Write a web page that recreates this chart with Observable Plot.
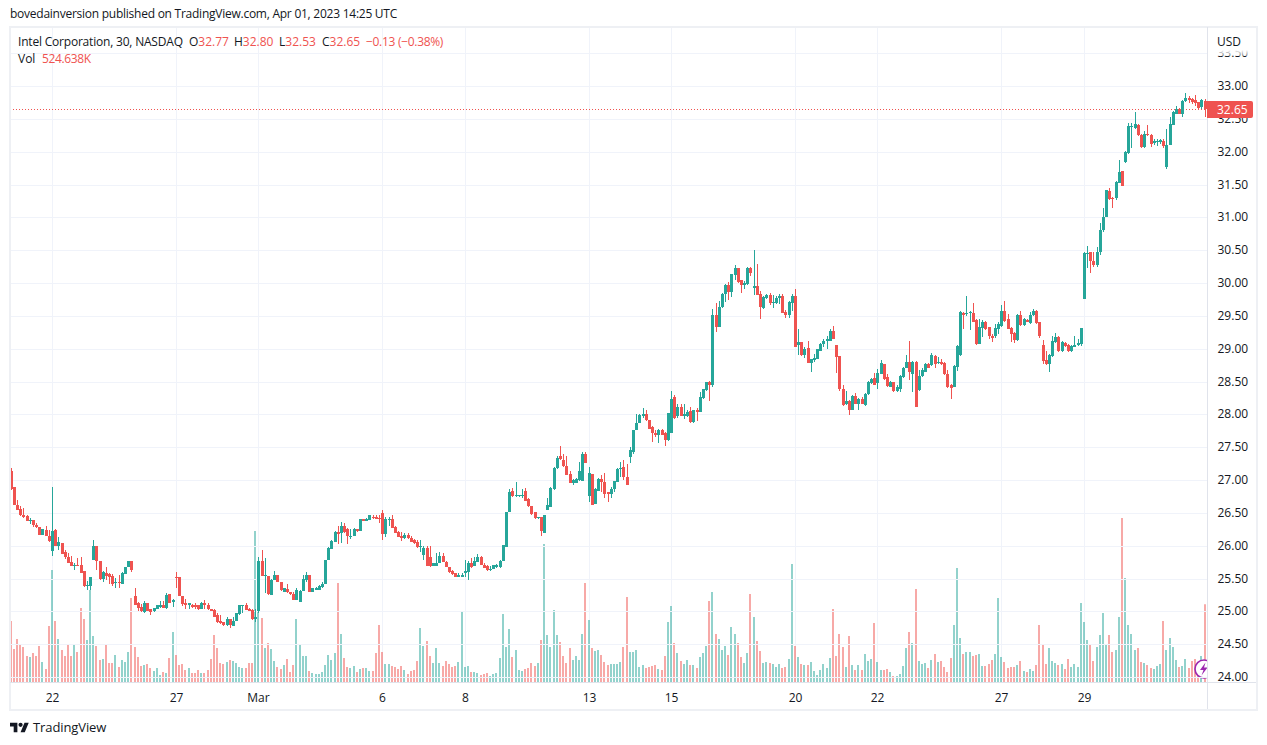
<!DOCTYPE html>
<html><head><meta charset="utf-8">
<script src="https://cdn.jsdelivr.net/npm/d3@7"></script>
<script src="https://cdn.jsdelivr.net/npm/@observablehq/plot@0.6"></script>
<style>
html,body{margin:0;padding:0;background:#fff;}
#page{position:relative;width:1267px;height:745px;overflow:hidden;font-family:"Open Sans",sans-serif;color:#131722;font-size:12px;}
#page svg{position:absolute;left:0;top:0;background:transparent;}
.t{position:absolute;white-space:nowrap;line-height:14px;}
.r{color:#ef5350;}
.box{position:absolute;}
</style></head><body><div id="page"></div>
<script>
// 30-minute candles, 13 per session, Feb 21 - Mar 31 2023
const opens=[
27.13,26.89,26.62,26.56,26.47,26.45,26.37,26.39,26.32,26.28,26.17,26.24,26.14,
25.92,26.24,25.99,26.04,25.91,25.83,25.75,25.69,25.71,25.70,25.61,25.38,25.38,
25.78,25.99,25.76,25.49,25.58,25.57,25.54,25.43,25.45,25.42,25.57,25.67,25.76,
25.24,25.12,25.06,24.99,25.12,25.04,25.00,25.03,25.06,25.09,25.05,25.27,25.14,
25.53,25.53,25.23,25.13,25.10,25.10,25.09,25.09,25.03,25.13,25.10,25.03,25.02,
24.95,24.85,24.83,24.79,24.89,24.78,24.85,24.96,25.08,25.10,25.03,25.02,24.88,
25.01,25.77,25.54,25.54,25.25,25.47,25.56,25.45,25.30,25.34,25.29,25.27,25.17,
25.14,25.31,25.47,25.56,25.29,25.33,25.33,25.37,25.41,25.78,25.95,26.06,26.21,
26.20,26.30,26.25,26.13,26.14,26.25,26.23,26.40,26.37,26.39,26.44,26.43,26.42,
26.49,26.18,26.39,26.41,26.28,26.21,26.15,26.11,26.17,26.12,26.08,26.05,25.98,
25.86,25.97,25.83,25.69,25.69,25.73,25.85,25.75,25.67,25.62,25.58,25.53,25.53,
25.58,25.60,25.73,25.69,25.75,25.82,25.71,25.69,25.63,25.64,25.68,25.68,25.76,
25.98,26.51,26.84,26.75,26.75,26.75,26.84,26.71,26.60,26.51,26.42,26.44,26.20,
26.55,26.59,26.86,27.18,27.36,27.31,27.22,27.09,26.96,26.96,27.00,26.99,27.40,
26.75,27.09,26.63,26.84,27.01,26.97,26.82,26.78,26.86,26.97,27.17,27.20,27.04,
27.35,27.42,27.76,27.87,27.98,28.00,27.91,27.81,27.72,27.68,27.76,27.72,27.61,
27.72,28.27,27.97,28.11,27.98,27.98,28.05,27.88,28.07,28.04,28.25,28.37,28.49,
28.44,29.51,29.33,29.63,29.84,29.97,29.87,30.12,30.23,30.04,29.97,29.98,30.23,
29.93,29.95,29.83,29.62,29.77,29.82,29.70,29.70,29.77,29.80,29.56,29.51,29.70,
29.80,29.05,29.10,28.91,29.01,28.78,28.83,28.85,28.97,29.07,29.11,29.12,29.27,
29.05,28.89,28.39,28.15,28.20,28.07,28.28,28.15,28.24,28.14,28.31,28.47,28.56,
28.47,28.62,28.77,28.57,28.42,28.49,28.35,28.38,28.57,28.70,28.79,28.62,28.79,
28.37,28.58,28.65,28.76,28.75,28.89,28.78,28.80,28.78,28.62,28.44,28.42,28.72,
28.90,29.55,29.53,29.54,29.55,29.44,29.07,29.32,29.41,29.33,29.20,29.19,29.30,
29.35,29.58,29.45,29.32,29.24,29.13,29.51,29.36,29.44,29.39,29.51,29.58,29.40,
29.05,28.83,28.77,28.89,29.10,29.18,28.96,29.09,29.06,28.97,29.03,29.05,29.07,
29.75,30.44,30.47,30.34,30.28,30.47,30.80,31.00,31.40,31.30,31.29,31.53,31.70,
31.84,31.98,32.37,32.36,32.41,32.26,32.07,32.27,32.26,32.13,32.15,32.15,32.17,
31.77,32.10,32.41,32.58,32.65,32.58,32.77,32.82,32.81,32.79,32.75,32.68,32.77];
const closes=[
26.86,26.62,26.55,26.46,26.43,26.37,26.39,26.32,26.28,26.17,26.25,26.14,26.07,
26.23,26.00,26.06,25.88,25.83,25.74,25.69,25.71,25.69,25.59,25.38,25.40,25.52,
25.99,25.76,25.49,25.60,25.54,25.53,25.41,25.45,25.43,25.59,25.67,25.76,25.63,
25.10,25.05,25.00,25.13,25.01,24.99,25.05,25.09,25.09,25.05,25.25,25.13,25.17,
25.51,25.23,25.11,25.09,25.12,25.06,25.07,25.03,25.13,25.10,25.03,25.01,24.91,
24.83,24.82,24.79,24.88,24.79,24.86,24.97,25.09,25.10,25.02,25.01,24.88,24.92,
25.76,25.54,25.56,25.26,25.47,25.55,25.45,25.32,25.35,25.29,25.26,25.17,25.33,
25.31,25.49,25.56,25.29,25.35,25.36,25.39,25.42,25.78,25.96,26.07,26.21,26.18,
26.30,26.21,26.14,26.15,26.26,26.23,26.40,26.38,26.41,26.47,26.42,26.41,26.40,
26.18,26.41,26.41,26.27,26.19,26.13,26.11,26.16,26.11,26.05,26.04,25.98,26.00,
25.97,25.69,25.69,25.73,25.73,25.85,25.75,25.67,25.60,25.57,25.53,25.55,25.55,
25.62,25.73,25.67,25.76,25.82,25.70,25.66,25.63,25.65,25.70,25.70,25.76,26.01,
26.51,26.82,26.75,26.77,26.77,26.77,26.68,26.60,26.48,26.42,26.44,26.22,26.46,
26.62,26.88,27.19,27.34,27.32,27.21,27.08,26.96,27.00,27.01,27.14,27.40,27.26,
27.11,26.62,26.86,27.02,26.97,26.79,26.78,26.86,26.98,27.17,27.19,27.04,26.92,
27.45,27.76,27.87,27.99,28.00,27.91,27.78,27.72,27.68,27.76,27.68,27.61,28.02,
28.24,27.95,28.11,27.98,28.00,28.03,27.88,28.06,28.03,28.26,28.38,28.49,28.44,
29.51,29.33,29.63,29.84,29.97,29.87,30.14,30.23,30.02,29.97,30.00,30.23,30.16,
29.95,29.82,29.64,29.78,29.82,29.69,29.71,29.77,29.80,29.55,29.51,29.71,29.80,
29.03,29.10,28.91,29.00,28.78,28.84,28.86,28.99,29.07,29.12,29.15,29.27,29.15,
28.88,28.38,28.14,28.21,28.07,28.28,28.15,28.24,28.15,28.31,28.49,28.54,28.45,
28.63,28.78,28.54,28.43,28.49,28.35,28.41,28.59,28.70,28.79,28.65,28.79,28.11,
28.58,28.67,28.76,28.71,28.90,28.77,28.80,28.76,28.61,28.41,28.40,28.73,29.04,
29.56,29.51,29.55,29.56,29.41,29.07,29.33,29.41,29.30,29.19,29.17,29.32,29.37,
29.57,29.42,29.30,29.23,29.13,29.52,29.36,29.45,29.41,29.51,29.57,29.39,29.19,
28.82,28.77,28.90,29.11,29.18,28.96,29.10,29.04,28.97,29.04,29.06,29.08,29.32,
30.45,30.46,30.34,30.27,30.47,30.81,31.01,31.42,31.28,31.28,31.54,31.69,31.48,
31.99,32.39,32.39,32.42,32.25,32.07,32.27,32.25,32.12,32.17,32.17,32.18,32.09,
32.10,32.42,32.60,32.65,32.58,32.77,32.82,32.79,32.76,32.74,32.66,32.78,32.65];
const highs=[
27.18,26.89,26.70,26.61,26.57,26.46,26.42,26.39,26.35,26.28,26.26,26.30,26.24,
26.89,26.26,26.13,26.04,25.94,25.89,25.85,25.73,25.81,25.83,25.61,25.46,25.52,
26.09,25.99,25.76,25.61,25.68,25.58,25.57,25.51,25.56,25.60,25.67,25.76,25.77,
25.36,25.14,25.11,25.15,25.12,25.04,25.05,25.09,25.15,25.15,25.28,25.27,25.19,
25.60,25.53,25.23,25.19,25.13,25.11,25.13,25.10,25.14,25.18,25.13,25.03,25.03,
24.97,24.95,24.84,24.92,24.89,24.91,24.98,25.10,25.10,25.13,25.05,25.03,25.03,
25.83,25.93,25.81,25.54,25.49,25.62,25.56,25.45,25.36,25.41,25.30,25.30,25.35,
25.33,25.55,25.60,25.56,25.35,25.37,25.40,25.45,25.78,25.98,26.09,26.23,26.30,
26.36,26.34,26.27,26.25,26.27,26.26,26.41,26.41,26.42,26.47,26.47,26.47,26.47,
26.55,26.44,26.44,26.47,26.30,26.23,26.21,26.20,26.20,26.14,26.10,26.09,26.09,
26.00,26.00,26.00,25.73,25.89,25.90,25.89,25.76,25.67,25.63,25.58,25.59,25.59,
25.78,25.76,25.81,25.83,25.88,25.84,25.73,25.70,25.69,25.71,25.72,25.78,26.01,
26.51,26.86,26.88,26.97,26.77,26.87,26.88,26.73,26.60,26.51,26.44,26.44,26.46,
26.72,26.89,27.20,27.36,27.52,27.40,27.36,27.14,27.01,27.03,27.28,27.42,27.42,
27.20,27.09,26.88,27.03,27.07,27.10,26.82,26.89,26.99,27.18,27.28,27.30,27.25,
27.50,27.76,28.01,28.01,28.09,28.07,27.91,27.83,27.76,27.78,27.77,27.73,28.02,
28.36,28.29,28.15,28.15,28.16,28.06,28.11,28.07,28.10,28.34,28.39,28.50,28.51,
29.61,29.69,29.73,29.85,29.99,30.01,30.14,30.27,30.23,30.05,30.03,30.24,30.24,
30.50,30.29,29.88,29.80,29.84,29.85,29.82,29.80,29.84,29.84,29.59,29.73,29.84,
29.91,29.30,29.10,29.03,29.11,28.84,28.92,29.00,29.09,29.15,29.20,29.30,29.35,
29.05,28.89,28.45,28.35,28.22,28.29,28.32,28.25,28.27,28.32,28.51,28.55,28.63,
28.69,28.83,28.77,28.61,28.51,28.50,28.44,28.60,28.72,28.91,29.11,28.81,28.81,
28.67,28.70,28.78,28.78,28.93,28.90,28.88,28.85,28.79,28.68,28.46,28.75,29.05,
29.57,29.56,29.80,29.57,29.70,29.45,29.45,29.43,29.42,29.33,29.22,29.37,29.40,
29.67,29.72,29.53,29.33,29.25,29.53,29.57,29.47,29.45,29.56,29.60,29.59,29.40,
29.13,28.97,28.92,29.19,29.24,29.19,29.11,29.10,29.07,29.05,29.19,29.14,29.32,
30.47,30.56,30.47,30.48,30.55,30.92,31.15,31.42,31.45,31.31,31.55,31.87,31.71,
32.01,32.43,32.43,32.60,32.42,32.27,32.31,32.40,32.27,32.19,32.19,32.20,32.19,
32.34,32.53,32.62,32.69,32.67,32.78,32.89,32.85,32.82,32.86,32.76,32.80,32.80];
const lows=[
26.85,26.62,26.55,26.45,26.42,26.37,26.33,26.29,26.27,26.17,26.16,26.14,26.06,
25.85,25.99,25.93,25.88,25.80,25.73,25.69,25.63,25.69,25.59,25.37,25.32,25.33,
25.78,25.63,25.47,25.44,25.48,25.42,25.39,25.35,25.36,25.42,25.57,25.67,25.60,
25.09,25.00,24.99,24.98,25.01,24.94,24.99,25.03,25.05,25.05,25.04,25.13,25.07,
25.36,25.23,25.08,25.04,25.03,25.05,25.04,25.02,25.03,25.03,25.02,25.01,24.91,
24.82,24.81,24.78,24.78,24.74,24.78,24.85,24.95,24.97,25.02,25.00,24.87,24.83,
24.98,25.54,25.28,25.25,25.25,25.47,25.45,25.31,25.29,25.28,25.25,25.17,25.17,
25.14,25.31,25.45,25.29,25.29,25.32,25.33,25.36,25.41,25.78,25.95,26.05,26.03,
26.04,26.20,26.02,26.10,26.14,26.21,26.22,26.37,26.37,26.39,26.41,26.40,26.35,
26.09,26.13,26.30,26.27,26.19,26.13,26.07,26.10,26.10,26.05,26.02,25.97,25.91,
25.78,25.69,25.68,25.69,25.69,25.73,25.75,25.67,25.58,25.56,25.52,25.52,25.52,
25.52,25.47,25.66,25.69,25.75,25.70,25.66,25.62,25.61,25.64,25.66,25.66,25.76,
25.98,26.51,26.74,26.74,26.74,26.73,26.68,26.59,26.47,26.41,26.41,26.15,26.20,
26.55,26.59,26.85,27.17,27.31,27.20,27.08,26.96,26.93,26.96,26.98,26.98,27.26,
26.67,26.62,26.63,26.84,26.82,26.72,26.67,26.72,26.82,26.97,27.04,27.00,26.92,
27.26,27.40,27.76,27.87,27.95,27.90,27.77,27.58,27.65,27.56,27.68,27.52,27.60,
27.72,27.93,27.95,27.98,27.93,27.96,27.87,27.87,27.90,28.03,28.24,28.35,28.21,
28.42,29.25,29.33,29.62,29.71,29.74,29.79,30.04,30.00,29.85,29.91,29.97,30.10,
29.81,29.81,29.45,29.61,29.76,29.67,29.62,29.68,29.68,29.55,29.46,29.47,29.58,
29.03,28.91,28.89,28.86,28.78,28.64,28.79,28.84,28.97,29.03,29.00,29.11,29.15,
28.63,28.35,28.13,28.14,27.99,28.07,28.15,28.06,28.15,28.13,28.30,28.46,28.44,
28.38,28.61,28.52,28.42,28.41,28.34,28.34,28.34,28.56,28.70,28.53,28.34,28.11,
28.36,28.57,28.64,28.70,28.74,28.70,28.77,28.75,28.60,28.40,28.23,28.41,28.66,
28.89,29.30,29.50,29.28,29.40,29.05,29.07,29.18,29.28,29.15,29.10,29.17,29.23,
29.33,29.40,29.30,29.10,29.09,29.12,29.35,29.35,29.40,29.38,29.50,29.38,29.16,
28.76,28.75,28.65,28.88,29.09,28.95,28.95,29.03,28.95,28.95,29.02,29.04,29.04,
29.75,30.23,30.15,30.25,30.24,30.42,30.78,31.00,31.27,31.14,31.27,31.52,31.47,
31.83,31.97,32.05,32.35,32.24,32.05,32.05,32.24,32.07,32.10,32.09,32.12,32.05,
31.73,32.10,32.40,32.57,32.57,32.53,32.76,32.74,32.72,32.69,32.63,32.65,32.53];
const volumes=[ // thousands of shares
413,224,292,251,238,177,170,197,177,244,137,90,379,
756,413,292,218,177,258,177,251,204,500,426,285,621,
312,244,150,157,258,130,130,184,103,150,137,204,567,
238,170,110,117,123,96,76,96,49,70,63,164,339,
184,117,123,83,96,63,63,83,63,63,83,157,318,
231,130,123,137,150,143,130,103,96,96,130,130,1018,
473,433,231,265,224,143,103,90,117,157,70,117,426,
258,177,177,76,63,56,56,70,117,184,150,197,668,
325,164,103,96,110,70,90,96,96,76,76,197,386,
204,123,123,110,103,90,110,83,56,76,83,143,366,
244,278,177,130,231,130,110,143,123,103,110,137,473,
103,110,70,70,63,49,56,63,43,56,63,164,460,
238,359,170,218,83,76,90,96,130,110,130,285,931,
318,238,487,318,271,177,130,231,150,177,150,325,668,
419,231,211,218,184,137,117,123,123,123,137,238,574,
204,204,218,103,117,96,103,110,117,90,83,177,406,
514,265,197,144,123,150,117,117,96,170,197,244,547,
608,325,292,218,244,184,372,325,265,170,130,197,594,
440,278,211,130,137,130,123,103,123,96,103,157,796,
244,170,123,117,117,137,76,49,83,123,96,164,493,
177,325,238,103,312,117,83,117,83,191,144,157,399,
137,83,83,90,70,43,43,56,110,231,339,265,628,
144,123,130,96,150,191,137,144,103,70,164,386,769,
298,191,204,204,177,184,191,110,110,123,150,191,567,
170,137,96,103,103,117,144,76,70,90,76,117,386,
251,123,231,144,130,117,123,90,157,103,123,103,534,
406,285,251,144,238,318,467,251,318,204,218,440,1106,
702,386,325,218,231,137,130,117,96,90,110,123,413,
218,298,238,150,103,110,157,96,144,157,123,177,524.638];
const dayTickBars=[13,52,78,117,143,182,208,247,273,312,338];
const dayTickLabels=["22","27","Mar","6","8","13","15","20","22","27","29"];
const priceTicks=[24,24.5,25,25.5,26,26.5,27,27.5,28,28.5,29,29.5,30,30.5,31,31.5,32,32.5,33,33.5];
const lastClose=32.65;

const UP="#26a69a",DOWN="#ef5350",GRID="#f0f3fa",INK="#131722";
const bars=d3.range(closes.length);
const colorOf=i=>closes[i]>=opens[i]?UP:DOWN;
const W=1267,H=745;
const xScale={domain:[0,bars.length-1],range:[10.7,1204.5],round:true};
const frame={width:W,height:H,marginLeft:10,marginRight:60,marginTop:27,marginBottom:63};
const font='"Open Sans",sans-serif';
const style={background:"transparent",color:INK,fontSize:"12px",fontFamily:font};

const page=document.getElementById("page");
function add(html){page.insertAdjacentHTML("beforeend",html);}

// grid and volume: bottom layer with its own y scale
const volPlot=Plot.plot({...frame,style,x:{...xScale,axis:null},
  y:{domain:[0,d3.max(volumes)],range:[682.3,518],axis:null},
  color:{type:"identity"},
  marks:[
    Plot.gridX(dayTickBars,{x:d=>d,stroke:GRID,strokeOpacity:1}),
    Plot.ruleX(bars,{x:d=>d,dx:-0.5,y1:0,y2:i=>volumes[i],stroke:colorOf,strokeOpacity:0.5,strokeWidth:2})
  ]});
page.appendChild(volPlot);

// lightning badge (clipped by the price axis)
add(`<svg width="${W}" height="${H}" viewBox="0 0 ${W} ${H}"><defs><clipPath id="cb"><rect x="1190" y="650" width="17" height="40"/></clipPath></defs>
<g clip-path="url(#cb)"><circle cx="1204" cy="669" r="9" fill="#fff" stroke="#9c27b0" stroke-width="1.6"/>
<path d="M1205.5 662.5 L1200 670 L1203.5 670 L1201.5 675.5 L1207.5 667.5 L1204 667.5 Z" fill="#9c27b0"/></g></svg>`);

// candles and axes
const pricePlot=Plot.plot({...frame,style,x:{...xScale,axis:null},
  y:{domain:[24,33.5],range:[677,53.2],round:true,axis:null},
  color:{type:"identity"},
  marks:[
    Plot.gridY(priceTicks,{y:d=>d,stroke:GRID,strokeOpacity:1}),
    Plot.ruleY([lastClose],{stroke:DOWN,strokeDasharray:"1 2",strokeWidth:1}),
    Plot.ruleX(bars,{x:d=>d,y1:i=>lows[i],y2:i=>highs[i],stroke:colorOf,strokeWidth:1}),
    Plot.ruleX(bars,{x:d=>d,y1:i=>opens[i],y2:i=>closes[i],stroke:colorOf,strokeWidth:3}),
    Plot.axisY(priceTicks,{anchor:"right",tickSize:0,tickPadding:10,tickFormat:d=>d.toFixed(2),label:null,fill:INK}),
    Plot.axisX(dayTickBars,{anchor:"bottom",tickSize:0,tickPadding:11,tickFormat:d=>dayTickLabels[dayTickBars.indexOf(d)],label:null,fill:INK})
  ]});
page.appendChild(pricePlot);

// frame
add(`<div class="box" style="left:9px;top:26px;width:1245px;height:681px;border:2px solid #eef0f4"></div>`);
add(`<div class="box" style="left:1207px;top:27px;width:1px;height:682px;background:#e0e3eb"></div>`);
add(`<div class="box" style="left:10px;top:682px;width:1246px;height:1px;background:#e0e3eb"></div>`);
// fade of the top axis label
add(`<div class="box" style="left:1209px;top:46px;width:46px;height:10px;background:linear-gradient(#fff 40%,rgba(255,255,255,0.35))"></div>`);
// last price tag
add(`<div class="box" style="left:1207px;top:101px;width:46px;height:17px;background:${DOWN};color:#fff;border-radius:0 2px 2px 0;line-height:18px;text-indent:10px;font-family:${font.replace(/"/g,"'")}">${lastClose.toFixed(2)}</div>`);
// texts
add(`<div class="t" style="left:10px;top:7px;letter-spacing:-0.25px">bovedainversion published on TradingView.com, Apr 01, 2023 14:25 UTC</div>`);
add(`<div class="t" style="left:18px;top:35px;letter-spacing:-0.2px">Intel Corporation, 30, NASDAQ</div>`);
[[189,"O","32.77"],[234,"H","32.80"],[279,"L","32.53"],[322,"C","32.65"]].forEach(([x,k,v])=>
  add(`<div class="t" style="left:${x}px;top:35px">${k}<span class="r">${v}</span></div>`));
add(`<div class="t r" style="left:366px;top:35px;letter-spacing:-0.3px">−0.13 (−0.38%)</div>`);
add(`<div class="t" style="left:18px;top:52px">Vol</div>`);
add(`<div class="t r" style="left:42px;top:52px;letter-spacing:-0.35px">524.638K</div>`);
add(`<div class="t" style="left:1217px;top:35px">USD</div>`);
add(`<svg style="left:10px;top:722px" width="19" height="11" viewBox="0 4 36 18"><path fill="${INK}" d="M14 22H7V11H0V4h14v18zM28 22h-8l7.5-18h8L28 22z"/><circle fill="${INK}" cx="20" cy="8" r="4"/></svg>`);
add(`<div class="t" style="left:33px;top:720px;font-size:13px;letter-spacing:-0.1px">TradingView</div>`);
</script></body></html>
